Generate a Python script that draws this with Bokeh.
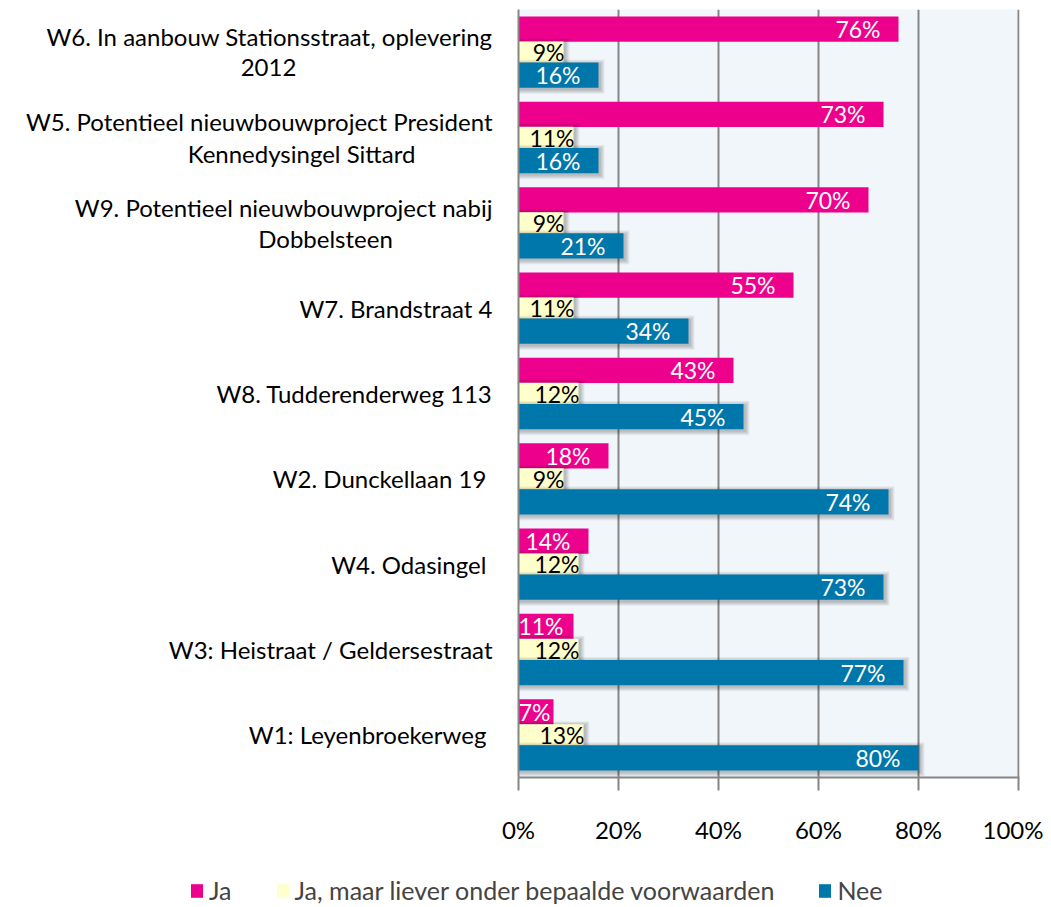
from bokeh.plotting import figure
from bokeh.layouts import row, column
from bokeh.models import (Range1d, FixedTicker, PrintfTickFormatter, Legend, LegendItem,
                          ColumnDataSource)
from bokeh.core.properties import value
from bokeh.embed import file_html
from bokeh.resources import INLINE

categories = [
    "W6. In aanbouw Stationsstraat, oplevering\n2012",
    "W5. Potentieel nieuwbouwproject President\nKennedysingel Sittard",
    "W9. Potentieel nieuwbouwproject nabij\nDobbelsteen",
    "W7. Brandstraat 4",
    "W8. Tudderenderweg 113",
    "W2. Dunckellaan 19 ",
    "W4. Odasingel ",
    "W3: Heistraat / Geldersestraat",
    "W1: Leyenbroekerweg ",
]
ja = [76, 73, 70, 55, 43, 18, 14, 11, 7]
ja_maar = [9, 11, 9, 11, 12, 9, 12, 12, 13]
nee = [16, 16, 21, 34, 45, 74, 73, 77, 80]
series_names = ["Ja", "Ja, maar liever onder bepaalde voorwaarden", "Nee"]
x_ticks = [0, 20, 40, 60, 80, 100]

PINK = "#EC008C"
YELLOW = "#FFFFCC"
BLUE = "#0077AA"
GRID = "#868686"
FONT = "Lato"

n = len(categories)
ypos = [n - 1 - i for i in range(n)]
OFF = 0.27
H = 0.295
HY = 0.25
PXY = 1.0 / 85.33   # one pixel in y units
PXX = 100.0 / 501   # one pixel in x units

TOP, BOTTOM = 9, 69
FIG_H = 846
y_range = Range1d(-0.5, n - 0.5)

# ---------------- category label panel ----------------
LW = 500
lab = figure(width=LW, height=FIG_H, output_backend="svg", toolbar_location=None,
             x_range=Range1d(0, LW), y_range=y_range,
             min_border_left=0, min_border_right=0,
             min_border_top=TOP, min_border_bottom=BOTTOM)
lab.axis.visible = False
lab.grid.visible = False
lab.outline_line_color = None
lab.background_fill_color = "white"

LINE_OFF = 15.5 * PXY
line2_center = [268, 301, 325]  # horizontal centre of wrapped second lines (px)
l1_y, l1_t, l2_x, l2_y, l2_t = [], [], [], [], []
k2 = 0
for y, c in zip(ypos, categories):
    parts = c.split("\n")
    if len(parts) == 1:
        l1_y.append(y)
        l1_t.append(parts[0])
    else:
        l1_y.append(y + LINE_OFF)
        l1_t.append(parts[0])
        l2_y.append(y - LINE_OFF)
        l2_t.append(parts[1])
        l2_x.append(line2_center[k2])
        k2 += 1
lab.text(x=[492] * len(l1_t), y=l1_y, text=l1_t, text_align="right",
         text_baseline="middle", text_color="black",
         text_font=value(FONT), text_font_size="24px")
lab.text(x=l2_x, y=l2_y, text=l2_t, text_align="center",
         text_baseline="middle", text_color="black",
         text_font=value(FONT), text_font_size="24px")

# ---------------- main chart ----------------
p = figure(width=1043 - LW, height=FIG_H, output_backend="svg", toolbar_location=None,
           x_range=Range1d(0, 100.2), y_range=y_range,
           min_border_left=18, min_border_right=24, min_border_top=TOP,
           min_border_bottom=BOTTOM)
p.background_fill_color = "#F1F6FA"
p.border_fill_color = "white"
p.outline_line_color = None

p.xgrid.ticker = FixedTicker(ticks=x_ticks)
p.xgrid.grid_line_color = GRID
p.xgrid.grid_line_width = 2
p.ygrid.grid_line_color = None

p.xaxis.ticker = FixedTicker(ticks=x_ticks)
p.xaxis.formatter = PrintfTickFormatter(format="%d%%")
p.xaxis.axis_line_color = GRID
p.xaxis.axis_line_width = 2
p.xaxis.major_tick_line_color = GRID
p.xaxis.major_tick_line_width = 2
p.xaxis.major_tick_out = 13
p.xaxis.major_tick_in = 0
p.xaxis.minor_tick_line_color = None
p.xaxis.major_label_standoff = 24
p.xaxis.major_label_text_font = FONT
p.xaxis.major_label_text_font_size = "24px"
p.xaxis.major_label_text_color = "black"

p.yaxis.ticker = FixedTicker(ticks=[])
p.yaxis.major_label_standoff = 0
p.yaxis.axis_line_color = GRID
p.yaxis.axis_line_width = 2
p.yaxis.major_tick_line_color = None
p.yaxis.minor_tick_line_color = None
p.yaxis.major_tick_out = 0
p.yaxis.major_tick_in = 0

y_ja = [y + OFF for y in ypos]
y_ym = [y for y in ypos]
y_nee = [y - OFF for y in ypos]

def shadow(yc, vals, h):
    for k in range(1, 6):
        p.hbar(y=[y - 1.5 * PXY for y in yc],
               right=[v + (1.5 + k * 0.9) * PXX for v in vals],
               left=0, height=h + k * 1.8 * PXY,
               fill_color="black", fill_alpha=0.05, line_color=None)

r_ja = p.hbar(y=y_ja, right=ja, left=0, height=H, fill_color=PINK, line_color=None)
shadow(y_ym, ja_maar, HY)
r_ym = p.hbar(y=y_ym, right=ja_maar, left=0, height=HY, fill_color=YELLOW, line_color=None)
shadow(y_nee, nee, H)
r_nee = p.hbar(y=y_nee, right=nee, left=0, height=H, fill_color=BLUE, line_color=None)

def label_end(v, txt, gap):
    w = 2.6 * len(txt) + 1.0  # approx. text width in % units
    return max(v - gap, w + 0.2)

def add_labels(yc, vals, color, gap):
    txts = [f"{v}%" for v in vals]
    xs = [label_end(v, t, gap) for v, t in zip(vals, txts)]
    src = ColumnDataSource(dict(x=xs, y=yc, t=txts))
    p.text(x="x", y="y", text="t", source=src, text_align="right",
           text_baseline="middle", text_color=color,
           text_font=value(FONT), text_font_size="23px")

add_labels(y_ja, ja, "white", 3.6)
add_labels(y_ym, ja_maar, "black", -0.2)
add_labels(y_nee, nee, "white", 3.6)

# ---------------- legend panel ----------------
LH = 59
lg = figure(width=1043, height=LH, output_backend="svg", toolbar_location=None,
            x_range=Range1d(0, 1043), y_range=Range1d(0, LH),
            min_border_left=0, min_border_right=0, min_border_top=0, min_border_bottom=0)
lg.axis.visible = False
lg.grid.visible = False
lg.outline_line_color = None
lg.background_fill_color = "white"
colors = [PINK, YELLOW, BLUE]
# swatch renderers hold a point outside the visible range, so only the legend shows them
rs = [lg.hbar(y=[-100], right=[1], left=0, height=1, fill_color=c, line_color=None)
      for c in colors]
legend = Legend(items=[LegendItem(label=s, renderers=[r]) for s, r in zip(series_names, rs)],
                orientation="horizontal", location=(189, 0),
                label_text_font=FONT, label_text_font_size="25px",
                glyph_width=15, glyph_height=17, label_standoff=5, label_height=27,
                spacing=43, padding=0, margin=0,
                border_line_color=None, background_fill_alpha=0)
lg.add_layout(legend)

layout = column(row(lab, p), lg)
open("out.html", "w").write(file_html(layout, INLINE))
